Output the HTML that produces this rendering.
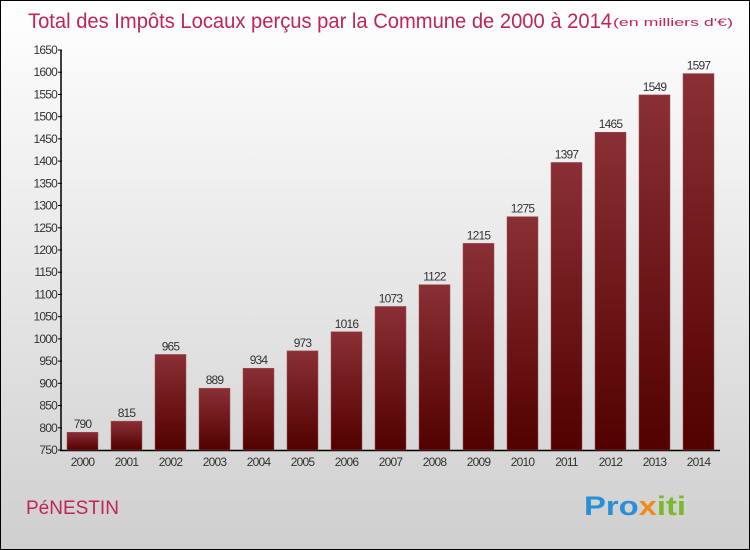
<!DOCTYPE html>
<html><head><meta charset="utf-8"><style>
body{margin:0;width:750px;height:550px;overflow:hidden}
svg{display:block;font-family:"Liberation Sans",sans-serif}
</style></head><body>
<svg width="750" height="550">
<defs>
<linearGradient id="bg" x1="0" y1="0" x2="0" y2="1"><stop offset="0" stop-color="#ffffff"/><stop offset="1" stop-color="#cfcfcf"/></linearGradient>
<linearGradient id="bar" x1="0" y1="0" x2="0" y2="1"><stop offset="0" stop-color="#8a3035"/><stop offset="1" stop-color="#520000"/></linearGradient>
</defs>
<rect x="0.5" y="0.5" width="749" height="549" fill="url(#bg)" stroke="#000"/>
<text x="28" y="28" font-size="21" fill="#c0245a" textLength="584" lengthAdjust="spacingAndGlyphs">Total des Impôts Locaux perçus par la Commune de 2000 à 2014</text>
<text x="613" y="26" font-size="11" fill="#c0245a" textLength="120" lengthAdjust="spacingAndGlyphs">(en milliers d'€)</text>
<text x="26" y="514" font-size="19" fill="#c0245a">PéNESTIN</text>
<text x="584" y="515" font-size="27" font-weight="bold" textLength="102" lengthAdjust="spacingAndGlyphs"><tspan fill="#2a8fd8">Pro</tspan><tspan fill="#f08a1c">x</tspan><tspan fill="#7ab929">iti</tspan></text>
<g id="plot"></g>
</svg>
<script>
const years=["2000","2001","2002","2003","2004","2005","2006","2007","2008","2009","2010","2011","2012","2013","2014"];
const values=[790,815,965,889,934,973,1016,1073,1122,1215,1275,1397,1465,1549,1597];
const ticks=[750,800,850,900,950,1000,1050,1100,1150,1200,1250,1300,1350,1400,1450,1500,1550,1600,1650];
const g=document.getElementById('plot');const NS='http://www.w3.org/2000/svg';
function y(v){return 450-(v-750)*400/900;}
function x(i){return 67+i*44;}
function mk(t,a,txt){const e=document.createElementNS(NS,t);for(const k in a)e.setAttribute(k,a[k]);if(txt!=null)e.textContent=txt;g.appendChild(e);return e;}
let ax=mk('line',{x1:61,y1:50,x2:61,y2:451,stroke:'#000','stroke-width':1.5});


let bx=mk('line',{x1:60,y1:450.5,x2:720,y2:450.5,stroke:'#000','stroke-width':1.5});


ticks.forEach(t=>{
 const l=mk('line',{x1:58,x2:62,y1:y(t),y2:y(t),stroke:'#000'});
 
 
 const tx=mk('text',{x:57,y:y(t)+4,'text-anchor':'end','font-size':12,fill:'#333','letter-spacing':'-0.8'},t);
 
 
});
values.forEach((v,i)=>{
 const r=mk('rect',{x:x(i),y:y(v),width:31,height:450-y(v),fill:'url(#bar)',stroke:'#a05058','stroke-width':0.5});
 
 
 const vl=mk('text',{x:x(i)+15.5,y:y(v)-4,'text-anchor':'middle','font-size':12,fill:'#333','letter-spacing':'-0.8'},v);
 
 
 const xl=mk('text',{x:x(i)+15.5,y:466,'text-anchor':'middle','font-size':12,fill:'#333','letter-spacing':'-0.8'},years[i]);
 
 
});
</script>
</body></html>
